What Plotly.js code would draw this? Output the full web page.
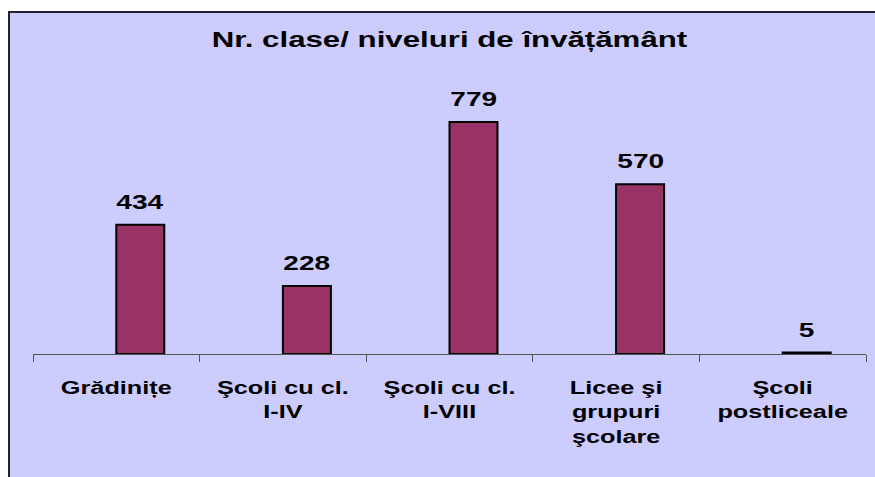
<!DOCTYPE html>
<html>
<head>
<meta charset="utf-8">
<script src="https://cdn.plot.ly/plotly-3.0.1.min.js"></script>
<style>
  html, body { margin: 0; padding: 0; background: #ffffff; }
  #chart { width: 875px; height: 477px; }
</style>
</head>
<body>
<div id="chart"></div>
<script>
const categories = ["Grădinițe", "Şcoli cu cl.<br>I-IV", "Şcoli cu cl.<br>I-VIII", "Licee şi<br>grupuri<br>şcolare", "Şcoli<br>postliceale"];
const values = [434, 228, 779, 570, 5];
const chartTitle = "Nr. clase/ niveluri de învățământ";

const FONT = "Liberation Sans, Arial, sans-serif";
const BAR_WIDTH = 0.288;

const data = [{
  type: "bar",
  x: categories,
  y: values,
  width: BAR_WIDTH,
  offset: 0,
  marker: { color: "#993366", line: { color: "#000000", width: 2 } },
  hoverinfo: "none"
}];

const annotations = categories.map((c, i) => ({
  x: c, y: values[i],
  xref: "x", yref: "y",
  text: "<b>" + values[i] + "</b>",
  showarrow: false,
  xanchor: "center", yanchor: "bottom",
  xshift: 24, yshift: 10,
  font: { family: FONT, size: 20, color: "#000000" }
}));

const layout = {
  width: 875,
  height: 477,
  margin: { l: 33, r: 9, t: 86, b: 123 },
  paper_bgcolor: "#ffffff",
  plot_bgcolor: "rgba(0,0,0,0)",
  showlegend: false,
  title: {
    text: "<b>" + chartTitle + "</b>",
    font: { family: FONT, size: 22, color: "#000000" },
    x: 0.5, xref: "paper", xanchor: "center",
    y: 1 - 39 / 477, yref: "container", yanchor: "middle"
  },
  xaxis: {
    type: "category",
    showline: true,
    linecolor: "#555555",
    linewidth: 1,
    ticks: "outside",
    tickson: "boundaries",
    ticklen: 7,
    tickcolor: "#555555",
    showgrid: false,
    zeroline: false,
    tickfont: { family: FONT, size: 19, color: "#000000", weight: "bold" },
    ticklabelstandoff: 16
  },
  yaxis: {
    range: [0, 900],
    visible: false,
    showgrid: false,
    zeroline: false
  },
  annotations: annotations,
  shapes: [{
    type: "rect",
    xref: "paper", yref: "paper",
    x0: (9 - 33) / 833, x1: 1.1,
    y0: -0.6, y1: (354 - 12) / 268,
    line: { color: "#202030", width: 2 },
    fillcolor: "#CCCCFF",
    layer: "below"
  }]
};

function stretch(el, s) {
  const x = parseFloat(el.getAttribute("x")) || 0;
  const tr = el.getAttribute("transform") || "";
  el.setAttribute("transform", tr + " translate(" + x + ",0) scale(" + s + ",1) translate(" + (-x) + ",0)");
}

Plotly.newPlot("chart", data, layout, { staticPlot: true, responsive: false }).then(gd => {
  gd.querySelectorAll(".xtick text").forEach(t => stretch(t, 1.33));
  gd.querySelectorAll("text.gtitle").forEach(t => stretch(t, 1.42));
  gd.querySelectorAll("text.annotation-text").forEach(t => stretch(t, 1.4));
});
</script>
</body>
</html>
